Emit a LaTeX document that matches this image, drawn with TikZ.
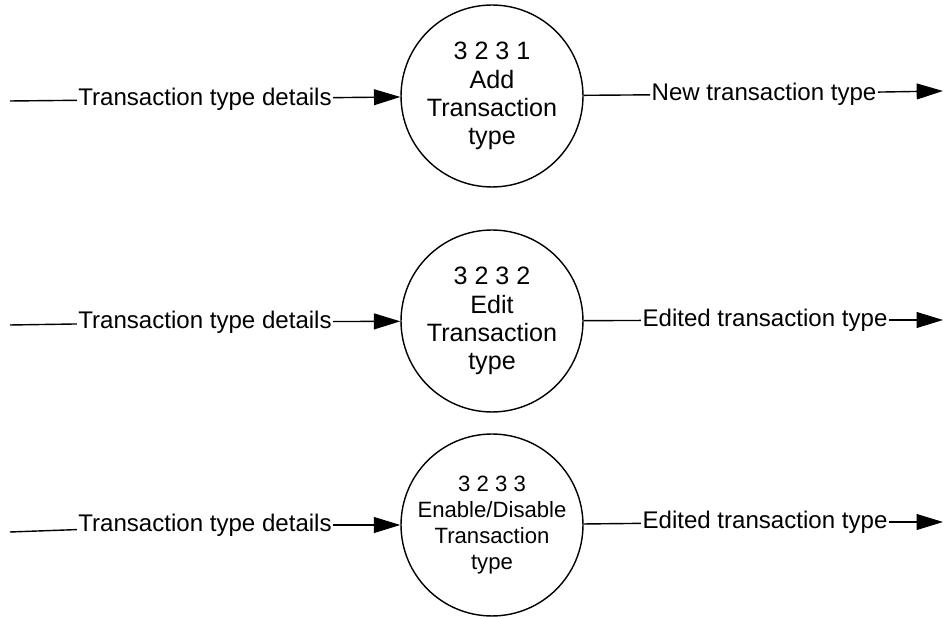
\documentclass[tikz,border=0pt]{standalone}
\usepackage{fontspec}
\setmainfont{Liberation Sans}
\usetikzlibrary{arrows.meta}
\begin{document}
\begin{tikzpicture}[x=0.02cm, y=-0.02cm, line width=0.8pt,
  process/.style={circle, draw, minimum size=3.64cm, inner sep=0pt, align=center, font=\fontsize{14.3}{16}\selectfont},
  flowlabel/.style={inner sep=0.5pt, font=\fontsize{13.7}{16}\selectfont},
  flowarrow/.style={-{Triangle[length=15pt, width=9pt]}}]

        \useasboundingbox (0,0) rectangle (944,617);

        % processes
        \node[process] (P1) at (492,96) {3 2 3 1\\Add\\Transaction\\type};
        \node[process] (P2) at (492,321) {3 2 3 2\\Edit\\Transaction\\type};
        \node[process, font=\fontsize{12.6}{14.8}\selectfont] (P3) at (492,525) {3 2 3 3\\Enable/Disable\\Transaction\\type};

        % flow labels
        \node[flowlabel] (L1) at (205,99) {Transaction type details};
        \node[flowlabel] (L2) at (205,322) {Transaction type details};
        \node[flowlabel] (L3) at (205,525) {Transaction type details};
        \node[flowlabel] (R1) at (764,94) {New transaction type};
        \node[flowlabel] (R2) at (765,320) {Edited transaction type};
        \node[flowlabel] (R3) at (765,522) {Edited transaction type};

        % free ends
        \coordinate (A1) at (10,101);
        \coordinate (A2) at (10,325);
        \coordinate (A3) at (10,532);
        \coordinate (B1) at (943,91);
        \coordinate (B2) at (943,320);
        \coordinate (B3) at (943,522);

        \draw[-] (A1) to (L1);
        \draw[-] (A2) to (L2);
        \draw[-] (A3) to (L3);
        \draw[flowarrow] (L1) to (P1);
        \draw[flowarrow] (L2) to (P2);
        \draw[flowarrow] (L3) to (P3);
        \draw[-] (P1) to (R1);
        \draw[-] (P2) to (R2);
        \draw[-] (P3) to (R3);
        \draw[flowarrow] (R1) to (B1);
        \draw[flowarrow] (R2) to (B2);
        \draw[flowarrow] (R3) to (B3);

\end{tikzpicture}
\end{document}
